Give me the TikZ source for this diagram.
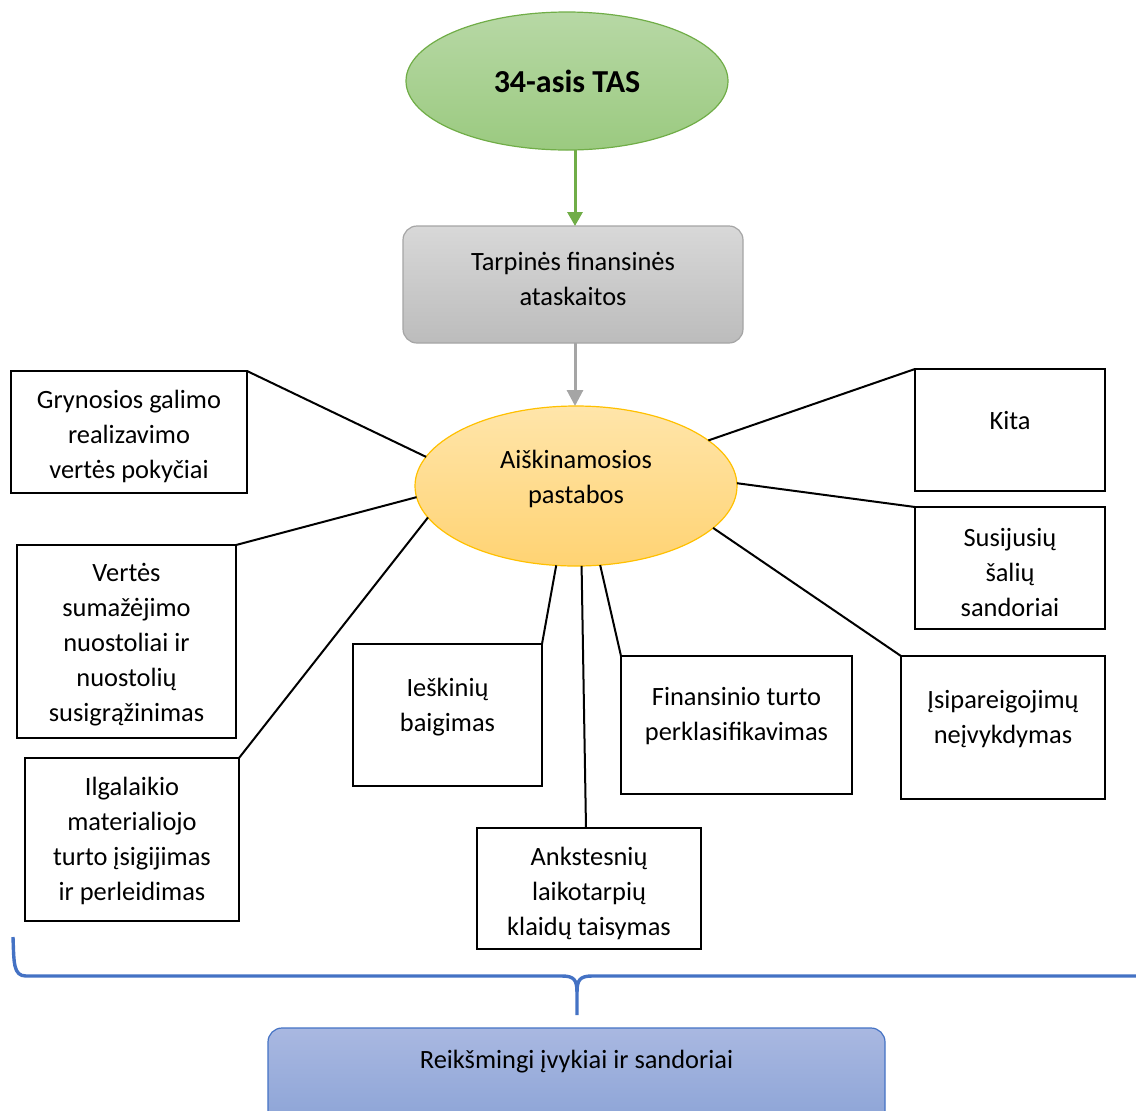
\documentclass[tikz,border=0pt]{standalone}
\usepackage{fontspec}
\setmainfont{Carlito}
\usetikzlibrary{arrows.meta,shapes.geometric}

\definecolor{gTop}{RGB}{183,216,165}
\definecolor{gBot}{RGB}{155,202,128}
\definecolor{gLine}{RGB}{112,173,71}
\definecolor{grTop}{RGB}{216,216,216}
\definecolor{grBot}{RGB}{188,188,188}
\definecolor{grLine}{RGB}{165,165,165}
\definecolor{oTop}{RGB}{255,229,170}
\definecolor{oBot}{RGB}{255,211,115}
\definecolor{oLine}{RGB}{255,192,0}
\definecolor{bTop}{RGB}{169,184,225}
\definecolor{bBot}{RGB}{139,163,214}
\definecolor{bLine}{RGB}{68,114,196}

\tikzset{
  txt/.style={align=center, font=\fontsize{13.2pt}{17.5pt}\selectfont, inner sep=0pt, yshift=-1pt},
  framebox/.style={draw=black, line width=1.1pt, fill=white, inner sep=0pt, outer sep=0pt},
  spoke/.style={draw=black, line width=1pt},
}

\begin{document}
\begin{tikzpicture}[x=0.5pt, y=-0.5pt]
\useasboundingbox (0,0) rectangle (1136,1110);
\clip (0,0) rectangle (1136,1110);

% standard and the two main blocks
\node[ellipse, draw=gLine, line width=0.6pt, top color=gTop, bottom color=gBot,
      minimum width=161pt, minimum height=69pt, inner sep=0pt, outer sep=0pt,
      font=\fontsize{16pt}{19pt}\selectfont\bfseries] (tas) at (567,81) {34-asis TAS};

\node[rectangle, rounded corners=7pt, draw=grLine, line width=0.6pt,
      top color=grTop, bottom color=grBot,
      minimum width=170pt, minimum height=58.5pt, inner sep=0pt, outer sep=0pt] (fin) at (573,284.5) {};
\node[txt] (fint) at (573,276.5) {Tarpinės finansinės\\ataskaitos};

\node[ellipse, draw=oLine, line width=0.6pt, top color=oTop, bottom color=oBot,
      minimum width=161pt, minimum height=80pt, inner sep=0pt, outer sep=0pt] (ais) at (576,486) {};
\node[txt] (aist) at (576,476.5) {Aiškinamosios\\pastabos};

\coordinate (finIn) at ([xshift=1pt]fin.north);
\coordinate (finOut) at ([xshift=1pt]fin.south);
\draw[gLine, line width=1.5pt, -{Triangle[length=7pt,width=7.5pt]}] (tas.south -| finIn) -- (finIn);
\draw[grLine, line width=1.5pt, -{Triangle[length=8pt,width=8pt]}] (finOut) -- (finOut |- ais.north);

% note categories
\node[framebox, minimum width=118pt, minimum height=61pt] (b1) at (129,432) {};
\node[txt] (b1t) at (129,434) {Grynosios galimo\\realizavimo\\vertės pokyčiai};

\node[framebox, minimum width=109.5pt, minimum height=96.5pt] (b2) at (126.5,641.5) {};
\node[txt] (b2t) at (126.5,643) {Vertės\\sumažėjimo\\nuostoliai ir\\nuostolių\\susigrąžinimas};

\node[framebox, minimum width=107pt, minimum height=81.5pt] (b3) at (132,839.5) {};
\node[txt] (b3t) at (132,838.5) {Ilgalaikio\\materialiojo\\turto įsigijimas\\ir perleidimas};

\node[framebox, minimum width=94.5pt, minimum height=71pt] (b4) at (447.5,715) {};
\node[txt] (b4t) at (447.5,705) {Ieškinių\\baigimas};

\node[framebox, minimum width=112pt, minimum height=60.5pt] (b5) at (589,888.5) {};
\node[txt] (b5t) at (589,891) {Ankstesnių\\laikotarpių\\klaidų taisymas};

\node[framebox, minimum width=115.5pt, minimum height=69pt] (b6) at (736.5,725) {};
\node[txt] (b6t) at (736.5,714.5) {Finansinio turto\\perklasifikavimas};

\node[framebox, minimum width=102pt, minimum height=71.5pt] (b7) at (1003,727.5) {};
\node[txt] (b7t) at (1003,717.5) {Įsipareigojimų\\neįvykdymas};

\node[framebox, minimum width=95pt, minimum height=61pt] (b8) at (1010,568) {};
\node[txt] (b8t) at (1010,571) {Susijusių\\šalių\\sandoriai};

\node[framebox, minimum width=95pt, minimum height=61pt] (b9) at (1010,430) {};
\node[txt] (b9t) at (1010,419) {Kita};

% spokes from the explanatory notes ellipse
\draw[spoke] (b1.north east) -- (ais.169);
\draw[spoke] (b2.north east) -- (ais.184);
\draw[spoke] (b3.north east) -- (ais.192);
\draw[spoke] (b4.north east) -- (ais.256.5);
\draw[spoke] ([xshift=-1.5pt]b5.north) -- (ais.274.5);
\draw[spoke] (b6.north west) -- (ais.287);
\draw[spoke] (b7.north west) -- (ais.343);
\draw[spoke] (b8.north west) -- (ais.1);
\draw[spoke] (b9.north west) -- (ais.19.5);

% grouping brace
\draw[bLine, line width=1.7pt, line join=round]
  (13,937) .. controls (14,962) and (13,976) .. (26,976) -- (562,976)
  .. controls (574,976) and (577,980) .. (577,992) -- (577,1015);
\draw[bLine, line width=1.7pt, line join=round]
  (577,992) .. controls (577,980) and (580,976) .. (592,976) -- (1140,976);

% result block
\node[rectangle, rounded corners=7pt, draw=bLine, line width=0.6pt,
      top color=bTop, bottom color=bBot,
      minimum width=308.5pt, minimum height=50pt, inner sep=0pt, outer sep=0pt] (rez) at (576.5,1078) {};
\node[txt] (rezt) at (576.5,1060) {Reikšmingi įvykiai ir sandoriai};
\end{tikzpicture}
\end{document}
